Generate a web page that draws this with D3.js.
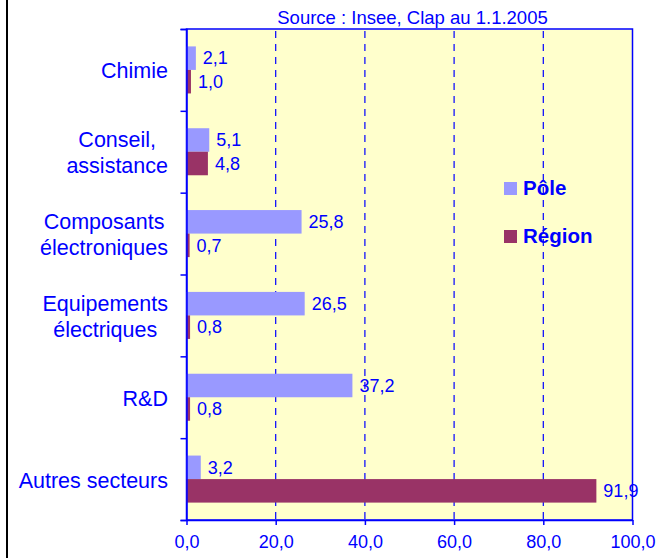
<!DOCTYPE html>
<html><head><meta charset="utf-8">
<script src="https://cdn.jsdelivr.net/npm/d3@7"></script>
<style>
body{margin:0;background:#fff}
text{font-family:"Liberation Sans",Arial,sans-serif}
</style>
</head><body>
<svg id="c" width="658" height="558"></svg>
<script>
// ---- data ----
const categories = ["Chimie", "Conseil,\nassistance", "Composants\nélectroniques", "Equipements\nélectriques", "R&D", "Autres secteurs"];
const seriesNames = ["Pôle", "Région"];
const poleValues = [2.1, 5.1, 25.8, 26.5, 37.2, 3.2];
const regionValues = [1.0, 4.8, 0.7, 0.8, 0.8, 91.9];
const xTicks = [0, 20, 40, 60, 80, 100];
const titleText = "Source : Insee, Clap au 1.1.2005";

// ---- layout ----
const W = 658, H = 558;
const L = 186.5, R = 632.5, T = 29, B = 520;
const blue = "#0000ff";
const colors = {"Pôle": "#9999ff", "Région": "#993366"};
const fmt = v => d3.format(".1f")(v).replace(".", ",");

const svg = d3.select("#c");
svg.append("rect").attr("width", W).attr("height", H).attr("fill", "#fff");
svg.append("line").attr("x1", 7).attr("x2", 7).attr("y1", 0).attr("y2", H)
  .attr("stroke", "#000").attr("stroke-width", 2);

const x = d3.scaleLinear().domain([0, 100]).range([L, R]);
const y = d3.scaleBand().domain(categories).range([T, B]);
const yInner = d3.scaleBand().domain(seriesNames).range([0, y.bandwidth()]).paddingInner(0).paddingOuter(0.74);

// plot area
svg.append("rect").attr("x", L).attr("y", T).attr("width", R - L).attr("height", B - T)
  .attr("fill", "#ffffcc").attr("stroke", blue).attr("stroke-width", 1.5);

// gridlines
svg.append("g").selectAll("line").data(xTicks.filter(t => t > 0 && t < 100)).join("line")
  .attr("x1", d => x(d)).attr("x2", d => x(d)).attr("y1", T).attr("y2", B)
  .attr("stroke", blue).attr("stroke-width", 1.2).attr("stroke-dasharray", "7,6")
  .attr("stroke-dashoffset", -2);

// title
svg.append("text").attr("x", (L + R) / 2 + 3).attr("y", 24).attr("text-anchor", "middle")
  .attr("fill", blue).attr("font-size", 18.5).text(titleText);

// bars
const rows = categories.map((c, i) => ({cat: c, vals: [
  {s: "Pôle", v: poleValues[i]}, {s: "Région", v: regionValues[i]}]}));
const g = svg.append("g").selectAll("g").data(rows).join("g")
  .attr("transform", d => `translate(0,${y(d.cat)})`);
g.selectAll("rect").data(d => d.vals).join("rect")
  .attr("x", x(0)).attr("y", d => yInner(d.s))
  .attr("width", d => x(d.v) - x(0)).attr("height", yInner.bandwidth())
  .attr("fill", d => colors[d.s]);
g.selectAll("text").data(d => d.vals).join("text")
  .attr("x", d => x(d.v) + 7).attr("y", d => yInner(d.s) + yInner.bandwidth() / 2)
  .attr("dy", "0.35em").attr("fill", blue).attr("font-size", 18).text(d => fmt(d.v));

// axes
const yIdx = d3.scaleLinear().domain([0, categories.length]).range([T, B]);
svg.append("g").attr("transform", `translate(${L},0)`)
  .call(d3.axisLeft(yIdx).ticks(categories.length).tickSize(6).tickFormat(""))
  .call(a => a.selectAll("line,path").attr("stroke", blue).attr("stroke-width", 1.5));
const xa = svg.append("g").attr("transform", `translate(0,${B})`)
  .call(d3.axisBottom(x).tickValues(xTicks).tickSize(5).tickSizeOuter(0).tickFormat(fmt));
xa.selectAll("line,path").attr("stroke", blue).attr("stroke-width", 1.5);
xa.selectAll("text").attr("fill", blue).attr("font-size", 18)
  .attr("font-family", '"Liberation Sans",Arial,sans-serif').attr("dy", "1.1em");

// category labels
const labRight = 168;
categories.forEach(c => {
  const lines = c.split("\n");
  const cy = y(c) + y.bandwidth() / 2 + 1;
  const t = svg.append("g");
  const txts = lines.map((ln, i) => t.append("text")
    .attr("y", cy + (i - (lines.length - 1) / 2) * 26).attr("dy", "0.35em")
    .attr("fill", blue).attr("font-size", 21.5).attr("text-anchor", "middle").text(ln));
  const maxW = d3.max(txts, s => s.node().getComputedTextLength());
  txts.forEach(s => s.attr("x", labRight - maxW / 2));
});

// legend
const leg = svg.append("g").selectAll("g").data(seriesNames).join("g")
  .attr("transform", (d, i) => `translate(504,${182 + i * 48})`);
leg.append("rect").attr("width", 13).attr("height", 13).attr("fill", d => colors[d]);
leg.append("text").attr("x", 19).attr("y", 13).attr("fill", blue)
  .attr("font-size", 20.5).attr("font-weight", "bold").text(d => d);
</script>
</body></html>
